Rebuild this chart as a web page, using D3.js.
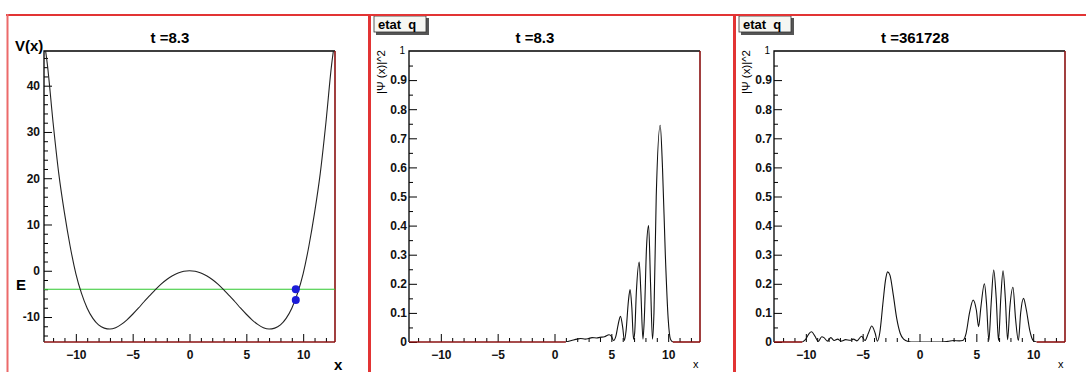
<!DOCTYPE html>
<html>
<head>
<meta charset="utf-8">
<script src="https://cdn.jsdelivr.net/npm/d3@7"></script>
<style>
body { margin:0; background:#fff; }
text { font-family:"Liberation Sans", Arial, sans-serif; }
</style>
</head>
<body>
<svg width="1086" height="372"></svg>
<script>
// ---- data ----
// potential V(x), left pad
let potX = [-12.8,-12.5,-12,-11.5,-11,-10.5,-10,-9.5,-9,-8.5,-8,-7.5,-7,-6.5,-6,-5.5,-5,-4.5,-4,-3.5,-3,-2.5,-2,-1.5,-1,-0.5,0,
            0.5,1,1.5,2,2.5,3,3.5,4,4.5,5,5.5,6,6.5,7,7.5,8,8.5,9,9.5,10,10.5,11,11.5,12,12.5,12.8];
let potV = [50,44.5,32,21,12.5,5.3,-0.6,-4.9,-8.1,-10.3,-11.7,-12.4,-12.6,-12.3,-11.6,-10.6,-9.4,-8.1,-6.7,-5.4,-4.1,-2.9,-1.9,-1.1,-0.5,-0.12,0,
            -0.12,-0.5,-1.1,-1.9,-2.9,-4.1,-5.4,-6.7,-8.1,-9.4,-10.6,-11.6,-12.3,-12.6,-12.4,-11.7,-10.3,-8.1,-4.9,-0.6,5.3,12.5,21,32,44.5,50];
let energy = -4;
let dotX = [9.35, 9.35];
let dotV = [-4, -6.3];

// |psi(x)|^2 at t = 8.3
let psiAX = [1.0,1.5,2.0,2.3,2.7,3.0,3.3,3.7,4.0,4.4,4.8,5.0,5.2,5.4,5.6,5.8,6.0,6.15,6.3,6.5,6.65,6.8,6.95,7.05,7.2,7.45,7.6,7.78,7.9,8.1,8.28,8.45,8.62,8.75,8.95,9.3,9.5,9.75,10.0,10.2,10.4];
let psiAY = [0,0.005,0.01,0.012,0.01,0.012,0.015,0.014,0.016,0.018,0.025,0.02,0.005,0.02,0.06,0.088,0.05,0.005,0.04,0.14,0.18,0.12,0.01,0.03,0.17,0.275,0.17,0.01,0.08,0.33,0.40,0.2,0.01,0.1,0.5,0.745,0.6,0.3,0.08,0.01,0];

// |psi(x)|^2 at t = 361728
let psiBX = [-10.3,-10,-9.7,-9.5,-9.2,-8.9,-8.6,-8.4,-8.1,-7.8,-7.5,-7.2,-6.9,-6.5,-6.1,-5.8,-5.5,-5.1,-4.8,-4.5,-4.2,-3.9,-3.7,-3.5,-3.2,-3.0,-2.8,-2.6,-2.3,-2.0,-1.7,-1.4,-1.0,-0.5,
             0,1,2,2.5,3.0,3.5,3.8,4.1,4.4,4.72,5.0,5.2,5.4,5.71,5.9,6.1,6.3,6.53,6.75,6.95,7.15,7.35,7.55,7.75,7.95,8.22,8.45,8.7,8.9,9.15,9.4,9.7,10.0,10.3];
let psiBY = [0,0.01,0.03,0.035,0.02,0.002,0.018,0.015,0.003,0.015,0.005,0.01,0.003,0.008,0.006,0.01,0.004,0.02,0.005,0.03,0.055,0.03,0.003,0.03,0.14,0.21,0.241,0.23,0.16,0.08,0.03,0.01,0.002,0,
             0,0,0,0.002,0.005,0.004,0.005,0.03,0.1,0.144,0.11,0.053,0.12,0.2,0.13,0.005,0.13,0.247,0.15,0.005,0.15,0.245,0.15,0.008,0.12,0.188,0.08,0.005,0.1,0.15,0.11,0.04,0.005,0];

let titles = ["t =8.3", "t =8.3", "t =361728"];
let titleX = [170, 535, 915];
let xMajor = [-10, -5, 0, 5, 10];
let xMinor = [-12,-11,-9,-8,-7,-6,-4,-3,-2,-1,1,2,3,4,6,7,8,9,11,12];
let vMajor = [-10, 0, 10, 20, 30, 40];
let vMinor = [-14,-12,-8,-6,-4,-2,2,4,6,8,12,14,16,18,22,24,26,28,32,34,36,38,42,44,46];
let pMajor = [0,0.1,0.2,0.3,0.4,0.5,0.6,0.7,0.8,0.9];
let pMinor = [0.05,0.15,0.25,0.35,0.45,0.55,0.65,0.75,0.85,0.95];
//--------------------------------------

let svg = d3.select("svg");
let fL = 44, fR = 335, fT = 51, fB = 342;
let frameRed = "#8a1010";

function makePanel(i, ox, yDomain, yMaj, yMin, yPad) {
  let g = svg.append("g");
  let x = d3.scaleLinear().domain([-12.8, 12.8]).range([ox + fL, ox + fR]);
  let y = d3.scaleLinear().domain(yDomain).range([fB, fT]);

  g.append("clipPath").attr("id", "clip" + i)
    .append("rect").attr("x", ox + fL).attr("y", fT).attr("width", fR - fL).attr("height", fB - fT);

  // frame top + left black, right dark red
  g.append("path")
    .attr("d", `M${ox + fL},${fB}V${fT}H${ox + fR}`)
    .attr("fill", "none").attr("stroke", "#000").attr("stroke-width", 1.3);
  g.append("line")
    .attr("x1", ox + fR).attr("x2", ox + fR).attr("y1", fT).attr("y2", fB)
    .attr("stroke", frameRed).attr("stroke-width", 1.6);

  // x axis
  g.append("g").attr("transform", `translate(0,${fB})`)
    .call(d3.axisBottom(x).tickValues(xMinor).tickSize(-4).tickFormat(""))
    .call(a => a.select(".domain").remove());
  let xa = g.append("g").attr("transform", `translate(0,${fB})`)
    .call(d3.axisBottom(x).tickValues(xMajor).tickSize(-8).tickPadding(8).tickFormat(d3.format("d")))
    .call(a => a.select(".domain").remove());
  xa.attr("font-family", null).attr("font-size", null);
  xa.selectAll("text").style("font-size", "12px").style("font-weight", "bold").attr("fill", "#111");

  // y axis
  g.append("g").attr("transform", `translate(${ox + fL},0)`)
    .call(d3.axisLeft(y).tickValues(yMin).tickSize(-4).tickFormat(""))
    .call(a => a.select(".domain").remove());
  let ya = g.append("g").attr("transform", `translate(${ox + fL},0)`)
    .call(d3.axisLeft(y).tickValues(yMaj).tickSize(-8).tickPadding(yPad).tickFormat(d => String(+d.toFixed(2))))
    .call(a => a.select(".domain").remove());
  ya.attr("font-family", null).attr("font-size", null);
  ya.selectAll("text").style("font-size", "12px").style("font-weight", "bold").attr("fill", "#111");
  g.selectAll(".tick line").attr("stroke", "#000");

  g.append("text").attr("x", titleX[i]).attr("y", 43)
    .attr("text-anchor", "middle").attr("font-size", 15).attr("font-weight", "bold")
    .text(titles[i]);

  return {g: g, x: x, y: y};
}

// ---------- panel 1 : potential ----------
let p1 = makePanel(0, 0, [-15.4, 47.5], vMajor, vMinor, 4);
p1.g.append("line")
  .attr("x1", p1.x(-12.8)).attr("x2", p1.x(12.8))
  .attr("y1", p1.y(energy)).attr("y2", p1.y(energy))
  .attr("stroke", "#2fc82f").attr("stroke-width", 1.2);
p1.g.append("path")
  .datum(d3.zip(potX, potV))
  .attr("clip-path", "url(#clip0)")
  .attr("fill", "none").attr("stroke", "#222").attr("stroke-width", 1.1)
  .attr("d", d3.line().x(d => p1.x(d[0])).y(d => p1.y(d[1])).curve(d3.curveMonotoneX));
p1.g.selectAll(".dot")
  .data(d3.zip(dotX, dotV))
  .enter().append("circle")
    .attr("cx", d => p1.x(d[0])).attr("cy", d => p1.y(d[1])).attr("r", 4)
    .attr("fill", "#1c1cd8");
p1.g.append("line")
  .attr("x1", fL).attr("x2", fR).attr("y1", fB).attr("y2", fB)
  .attr("stroke", frameRed).attr("stroke-width", 1.6);
p1.g.append("text").attr("x", 15).attr("y", 51).attr("font-size", 15).attr("font-weight", "bold").text("V(x)");
p1.g.append("text").attr("x", 16).attr("y", 290).attr("font-size", 15).attr("font-weight", "bold").text("E");
p1.g.append("text").attr("x", 334).attr("y", 370).attr("font-size", 15).attr("font-weight", "bold").text("x");

// ---------- panels 2 and 3 : |psi|^2 ----------
function psiPanel(i, ox, xs, ys) {
  let p = makePanel(i, ox, [0, 1], pMajor, pMinor, 2);
  // the "1" at the top is drawn smaller
  p.g.append("text").attr("x", ox + fL - 4).attr("y", p.y(1) + 3)
    .attr("text-anchor", "end").attr("font-size", 10).text("1");
  p.g.append("path")
    .datum(d3.zip(xs, ys))
    .attr("clip-path", "url(#clip" + i + ")")
    .attr("fill", "none").attr("stroke", "#111").attr("stroke-width", 1.1)
    .attr("d", d3.line().x(d => p.x(d[0])).y(d => p.y(d[1])).curve(d3.curveMonotoneX));
  p.g.append("line")
    .attr("x1", ox + fL).attr("x2", p.x(xs[0])).attr("y1", fB).attr("y2", fB)
    .attr("stroke", frameRed).attr("stroke-width", 1.6);
  p.g.append("line")
    .attr("x1", p.x(xs[xs.length - 1])).attr("x2", ox + fR).attr("y1", fB).attr("y2", fB)
    .attr("stroke", frameRed).attr("stroke-width", 1.6);
  p.g.append("text")
    .attr("transform", `translate(${ox + 20},50) rotate(-90)`)
    .attr("text-anchor", "end").attr("font-size", 11.5)
    .text("|\u03A8 (x)|^2");
  p.g.append("text").attr("x", ox + 328).attr("y", 368).attr("font-size", 11).text("x");
  // "etat q" button
  let b = p.g.append("g").attr("transform", `translate(${ox + 9},16)`);
  b.append("rect").attr("x", 2).attr("y", 2).attr("width", 53).attr("height", 17).attr("fill", "#555");
  b.append("rect").attr("x", 0).attr("y", 0).attr("width", 52).attr("height", 16)
    .attr("fill", "#f6f6f2").attr("stroke", "#333").attr("stroke-width", 0.8);
  b.append("text").attr("x", 4).attr("y", 12.5).attr("font-size", 13).attr("font-weight", "bold")
    .style("white-space", "pre").text("etat  q");
  return p;
}
psiPanel(1, 365, psiAX, psiAY);
psiPanel(2, 730, psiBX, psiBY);

// ---------- red pad borders ----------
let red = "#e23434";
svg.append("line").attr("x1", 6).attr("x2", 1086).attr("y1", 15).attr("y2", 15).attr("stroke", red).attr("stroke-width", 2);
svg.append("line").attr("x1", 7.5).attr("x2", 7.5).attr("y1", 14).attr("y2", 372).attr("stroke", "#ec6a6a").attr("stroke-width", 2);
svg.append("line").attr("x1", 369.5).attr("x2", 369.5).attr("y1", 14).attr("y2", 372).attr("stroke", red).attr("stroke-width", 3);
svg.append("line").attr("x1", 734.5).attr("x2", 734.5).attr("y1", 14).attr("y2", 372).attr("stroke", red).attr("stroke-width", 3);
</script>
</body>
</html>
